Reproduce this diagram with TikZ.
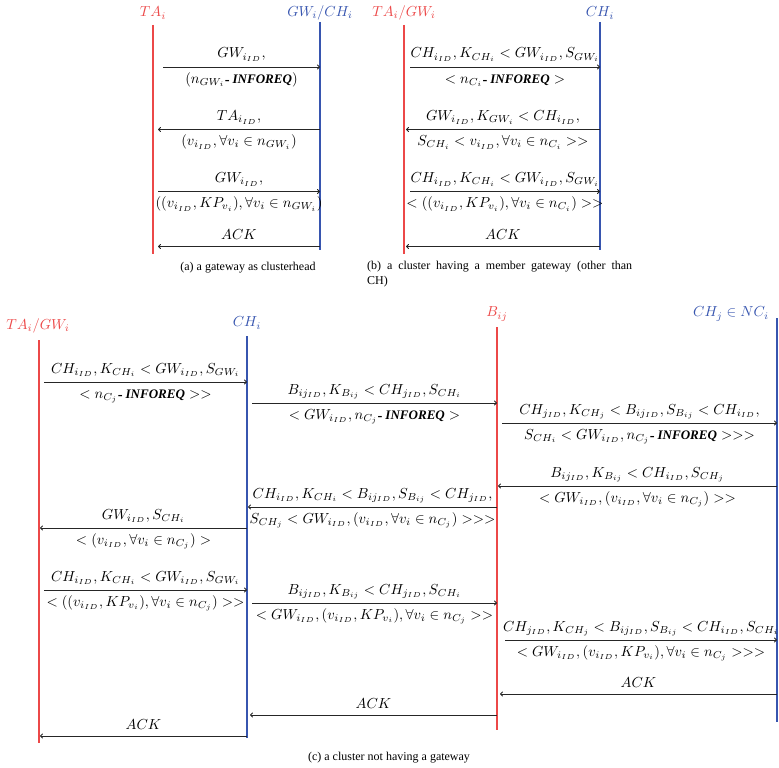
\documentclass[tikz,border=0pt]{standalone}
\usepackage{fontspec}
\newfontfamily\tnr{Liberation Serif}
\usetikzlibrary{arrows.meta}
\definecolor{llred}{RGB}{236,72,72}
\definecolor{llblue}{RGB}{55,85,175}
\newcommand\IR{\mbox{\tnr\fontsize{9}{11}\selectfont\bfseries\itshape INFOREQ}}
\newcommand\dsh{\mbox{\raisebox{-1pt}{\tnr\bfseries -}\hspace{2pt}}}
\newcommand\mymsg[6]{%
  \coordinate (#1s) at (#2,#4);
  \coordinate (#1e) at (#3,#4);
  \draw[msg] (#1s) -- coordinate (#1m) (#1e);
  \node[lab] (#1a) at ([yshift=9pt]#1m) {$#5$};
  \node[lab] (#1b) at ([yshift=-16pt]#1m) {$#6$};
}
\newcommand\myack[4]{%
  \coordinate (#1s) at (#2,#4);
  \coordinate (#1e) at (#3,#4);
  \draw[msg] (#1s) -- coordinate (#1m) (#1e);
  \node[lab] (#1a) at ([yshift=7pt]#1m) {$ACK$};
}
\tikzset{
  msg/.style={line width=0.9pt, black!85, -{To[length=3pt,width=5pt]}},
  lab/.style={anchor=base, inner sep=0pt, scale=1.45},
  head/.style={inner sep=0pt, scale=1.45},
  redline/.style={line width=1.1pt, llred},
  blueline/.style={line width=1.1pt, llblue},
  captxt/.style={inner sep=0pt, font=\tnr\fontsize{12}{15}\selectfont}
}
\begin{document}
\begin{tikzpicture}[x=1pt,y=-1pt]
\useasboundingbox (0,0) rectangle (779,768);
% ---------- panel (a)
\node[head, text=llred] (hA1) at (153,13) {$TA_i$};
\node[head, text=llblue] (hA2) at (320,13) {$GW_i/CH_i$};
\coordinate (lA1t) at (153,25); \coordinate (lA1b) at (153,254);
\coordinate (lA2t) at (320,22); \coordinate (lA2b) at (320,250);
\draw[redline] (lA1t) -- (lA1b);
\draw[blueline] (lA2t) -- (lA2b);
\mymsg{a1}{163}{320}{67}{GW_{i_{ID}},}{(n_{GW_i}\dsh\IR)}
\mymsg{a2}{320}{158}{129.5}{TA_{i_{ID}},}{(v_{i_{ID}}, \forall v_i \in n_{GW_i})}
\mymsg{a3}{158}{320}{191.5}{GW_{i_{ID}},}{((v_{i_{ID}}, KP_{v_i}), \forall v_i \in n_{GW_i})}
\myack{a4}{320}{158}{246.5}
\node[captxt] (capa) at (248,268) {(a) a gateway as clusterhead};
% ---------- panel (b)
\node[head, text=llred] (hB1) at (404,13) {$TA_i/GW_i$};
\node[head, text=llblue] (hB2) at (600,13) {$CH_i$};
\coordinate (lB1t) at (404,25); \coordinate (lB1b) at (404,254);
\coordinate (lB2t) at (600,22); \coordinate (lB2b) at (600,250);
\draw[redline] (lB1t) -- (lB1b);
\draw[blueline] (lB2t) -- (lB2b);
\mymsg{b1}{410}{600}{67}{CH_{i_{ID}}, K_{CH_i} < GW_{i_{ID}}, S_{GW_i}}{< n_{C_i}\dsh\IR >}
\mymsg{b2}{600}{406}{129.5}{GW_{i_{ID}}, K_{GW_i} < CH_{i_{ID}},}{S_{CH_i} < v_{i_{ID}}, \forall v_i \in n_{C_i} >>}
\mymsg{b3}{410}{600}{191.5}{CH_{i_{ID}}, K_{CH_i} < GW_{i_{ID}}, S_{GW_i}}{< ((v_{i_{ID}}, KP_{v_i}), \forall v_i \in n_{C_i}) >>}
\myack{b4}{600}{406}{246.5}
\node[captxt, anchor=north west, align=left] (capb) at (367,261) {\makebox[265pt][s]{(b) a cluster having a member gateway (other than}\\CH)};
% ---------- panel (c)
\node[head, text=llred] (hC1) at (38,326) {$TA_i/GW_i$};
\node[head, text=llblue] (hC2) at (247,323) {$CH_i$};
\node[head, text=llred] (hC3) at (497,314) {$B_{ij}$};
\node[head, text=llblue] (hC4) at (731,314) {$CH_j \in NC_i$};
\coordinate (lC1t) at (39,340); \coordinate (lC1b) at (39,743);
\coordinate (lC2t) at (247,336); \coordinate (lC2b) at (247,738);
\coordinate (lC3t) at (497,327); \coordinate (lC3b) at (497,730);
\coordinate (lC4t) at (777,318); \coordinate (lC4b) at (777,722);
\draw[redline] (lC1t) -- (lC1b);
\draw[blueline] (lC2t) -- (lC2b);
\draw[redline] (lC3t) -- (lC3b);
\draw[blueline] (lC4t) -- (lC4b);
\mymsg{c1}{44}{247}{382}{CH_{i_{ID}}, K_{CH_i} < GW_{i_{ID}}, S_{GW_i}}{< n_{C_j}\dsh\IR >>}
\mymsg{c2}{252}{497}{403}{B_{ij_{ID}}, K_{B_{ij}} < CH_{j_{ID}}, S_{CH_i}}{< GW_{i_{ID}}, n_{C_j}\dsh\IR >}
\mymsg{c3}{502}{777}{423}{CH_{j_{ID}}, K_{CH_j} < B_{ij_{ID}}, S_{B_{ij}} < CH_{i_{ID}},}{S_{CH_i} < GW_{i_{ID}}, n_{C_j}\dsh\IR >>>}
\mymsg{c4}{777}{498}{486}{B_{ij_{ID}}, K_{B_{ij}} < CH_{i_{ID}}, S_{CH_j}}{< GW_{i_{ID}}, (v_{i_{ID}}, \forall v_i \in n_{C_j}) >>}
\mymsg{c5}{497}{248}{507}{CH_{i_{ID}}, K_{CH_i} < B_{ij_{ID}}, S_{B_{ij}} < CH_{j_{ID}},}{S_{CH_j} < GW_{i_{ID}}, (v_{i_{ID}}, \forall v_i \in n_{C_j}) >>>}
\mymsg{c6}{247}{40}{528}{GW_{i_{ID}}, S_{CH_i}}{< (v_{i_{ID}}, \forall v_i \in n_{C_j}) >}
\mymsg{c7}{44}{247}{590}{CH_{i_{ID}}, K_{CH_i} < GW_{i_{ID}}, S_{GW_i}}{< ((v_{i_{ID}}, KP_{v_i}), \forall v_i \in n_{C_j}) >>}
\mymsg{c8}{252}{497}{603}{B_{ij_{ID}}, K_{B_{ij}} < CH_{j_{ID}}, S_{CH_i}}{< GW_{i_{ID}}, (v_{i_{ID}}, KP_{v_i}), \forall v_i \in n_{C_j} >>}
\mymsg{c9}{505}{777}{640}{CH_{j_{ID}}, K_{CH_j} < B_{ij_{ID}}, S_{B_{ij}} < CH_{i_{ID}}, S_{CH_i}}{< GW_{i_{ID}}, (v_{i_{ID}}, KP_{v_i}), \forall v_i \in n_{C_j} >>>}
\myack{c10}{777}{500}{694}
\myack{c11}{497}{250}{715}
\myack{c12}{247}{40}{736}
\node[captxt] (capc) at (389,758) {(c) a cluster not having a gateway};
\end{tikzpicture}
\end{document}
